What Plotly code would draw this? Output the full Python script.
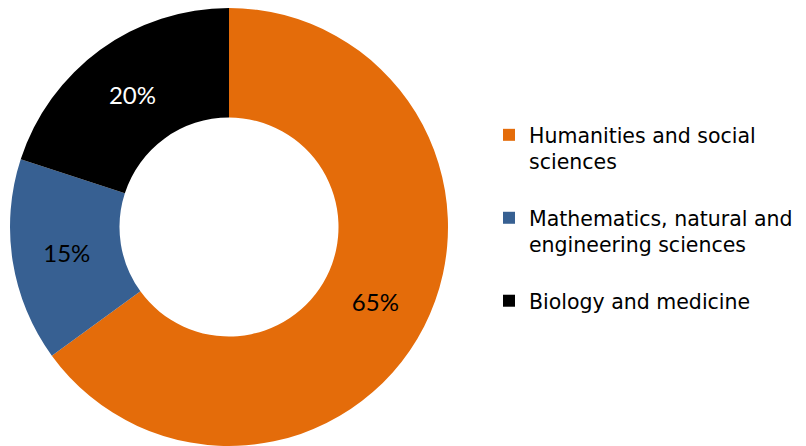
import plotly.graph_objects as go

categories = ["Humanities and social<br>sciences",
              "Mathematics, natural and<br>engineering sciences",
              "Biology and medicine"]
values = [65, 15, 20]
colors = ["#E46C0A", "#376092", "#000000"]
text_colors = ["#000000", "#000000", "#FFFFFF"]

# extra blank line between legend entries
legend_labels = [c + "<br>&nbsp;" if i < len(categories) - 1 else c
                 for i, c in enumerate(categories)]

W, H = 806, 446
OFF = 8  # page body margin
fig = go.Figure(go.Pie(
    labels=legend_labels,
    values=values,
    hole=0.5,
    sort=False,
    direction="clockwise",
    rotation=0,
    marker=dict(colors=colors, line=dict(width=0)),
    textinfo="percent",
    texttemplate="%{percent:.0%}",
    textposition="inside",
    insidetextorientation="horizontal",
    insidetextfont=dict(family="Lato", size=24, color=text_colors),
    domain=dict(x=[(10 - OFF) / W, (448 - OFF) / W], y=[OFF / H, 1]),
))
fig.update_layout(
    width=W, height=H,
    margin=dict(l=0, r=0, t=0, b=0),
    paper_bgcolor="white",
    showlegend=True,
    legend=dict(x=(489 - OFF) / W, y=1 - (115 - OFF) / H, xanchor="left", yanchor="top",
                valign="top",
                font=dict(family="DejaVu Sans", size=20.5, color="#000000"),
                itemwidth=30),
)
fig.write_html("out.html")
